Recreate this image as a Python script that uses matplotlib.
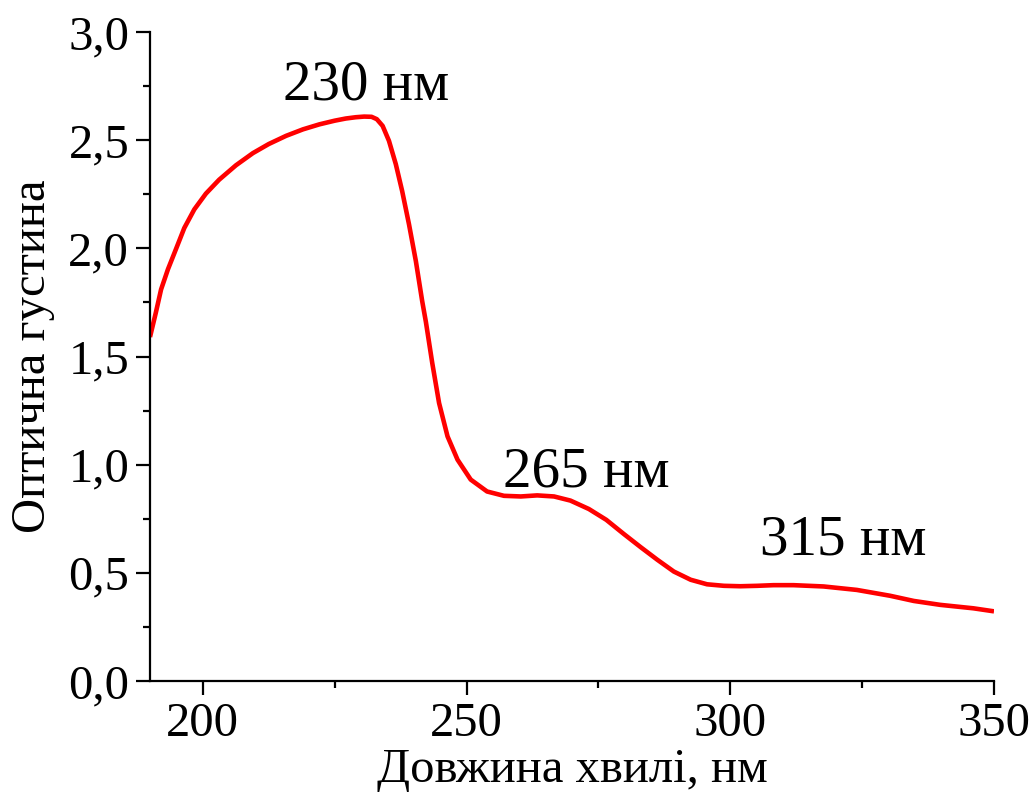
import matplotlib
matplotlib.use("Agg")
import matplotlib.pyplot as plt
from matplotlib.ticker import MultipleLocator, FuncFormatter

plt.rcParams['font.family'] = ['Liberation Serif', 'DejaVu Serif']

# Absorption spectrum: wavelength (nm) vs optical density
wavelength = [190.0, 191.1, 192.1, 193.4, 194.9, 196.5, 198.4, 200.6, 203.1, 206.3,
              209.5, 212.5, 215.8, 219.0, 222.1, 225.0, 227.1, 229.0, 230.6, 232.0,
              233.0, 234.1, 235.3, 236.6, 237.8, 239.1, 240.4, 241.6, 242.3, 243.5,
              244.8, 246.4, 248.3, 250.8, 253.9, 257.1, 260.3, 263.4, 266.6, 269.7,
              273.2, 276.5, 279.8, 283.0, 286.2, 289.3, 292.5, 295.6, 298.8, 301.9,
              305.1, 308.2, 312.0, 317.7, 324.0, 330.3, 334.8, 339.8, 346.1, 350.0]
optical_density = [1.59, 1.702, 1.810, 1.903, 1.995, 2.094, 2.180, 2.253, 2.317, 2.384,
                   2.440, 2.482, 2.520, 2.550, 2.573, 2.590, 2.600, 2.606, 2.609, 2.608,
                   2.597, 2.566, 2.497, 2.389, 2.265, 2.111, 1.941, 1.756, 1.660, 1.471,
                   1.285, 1.131, 1.023, 0.931, 0.876, 0.856, 0.853, 0.858, 0.853, 0.834,
                   0.795, 0.745, 0.680, 0.619, 0.560, 0.506, 0.468, 0.447, 0.440, 0.438,
                   0.440, 0.443, 0.443, 0.437, 0.421, 0.394, 0.370, 0.352, 0.336, 0.322]

peak_labels = ["230 нм", "265 нм", "315 нм"]
peak_label_x = [215.2, 257.0, 305.7]
peak_label_y = [2.69, 0.898, 0.583]

x_ticks = [200, 250, 300, 350]
y_ticks = [0.0, 0.5, 1.0, 1.5, 2.0, 2.5, 3.0]

fig = plt.figure(figsize=(10.29, 7.92), dpi=100)
ax = fig.add_axes([150 / 1029, 1 - 681 / 792, (994 - 150) / 1029, (681 - 32) / 792])

ax.plot(wavelength, optical_density, color='#ff0000', lw=3.3,
        solid_joinstyle='round', solid_capstyle='butt')

ax.set_xlim(190, 350)
ax.set_ylim(0, 3.0)
ax.set_xticks(x_ticks)
ax.set_yticks(y_ticks)
ax.xaxis.set_minor_locator(MultipleLocator(25))
ax.yaxis.set_minor_locator(MultipleLocator(0.25))
ax.yaxis.set_major_formatter(FuncFormatter(lambda v, p: f"{v:.1f}".replace('.', ',')))

for side in ('top', 'right'):
    ax.spines[side].set_visible(False)
for side in ('left', 'bottom'):
    ax.spines[side].set_linewidth(1.6)

ax.tick_params(which='major', direction='out', length=10, width=1.6, labelsize=35, pad=5)
ax.tick_params(which='minor', direction='out', length=5, width=1.6)

ax.set_xlabel("Довжина хвилі, нм", fontsize=35)
ax.set_ylabel("Оптична густина", fontsize=35)
ax.xaxis.set_label_coords(0.5, -0.104)
ax.yaxis.set_label_coords(-0.113, 0.5)

for txt, lx, ly in zip(peak_labels, peak_label_x, peak_label_y):
    ax.text(lx, ly, txt, fontsize=41, ha='left', va='baseline')

fig.savefig("out.png", dpi=100)
